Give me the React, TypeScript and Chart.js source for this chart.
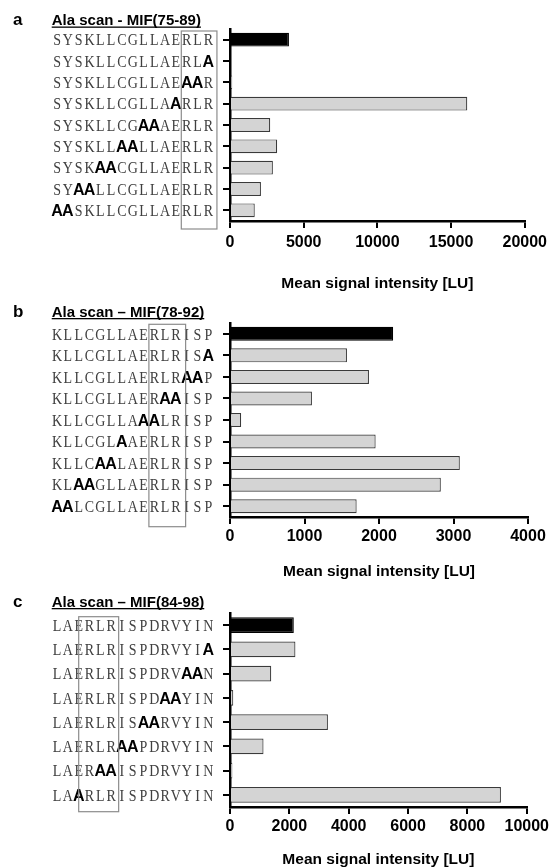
import React, { useEffect, useRef } from 'react';
import { Chart, registerables } from 'chart.js';

Chart.register(...registerables);

// lowercase "a" marks an alanine substitution (drawn as a bold "A")
const labelsA = [
  'SYSKLLCGLLAERLR',
  'SYSKLLCGLLAERLa',
  'SYSKLLCGLLAEaaR',
  'SYSKLLCGLLAaRLR',
  'SYSKLLCGaaAERLR',
  'SYSKLLaaLLAERLR',
  'SYSKaaCGLLAERLR',
  'SYaaLLCGLLAERLR',
  'aaSKLLCGLLAERLR',
];
const valuesA = [4000, 0, 150, 16100, 2730, 3200, 2910, 2100, 1680];

const labelsB = [
  'KLLCGLLAERLRISP',
  'KLLCGLLAERLRISa',
  'KLLCGLLAERLRaaP',
  'KLLCGLLAERaaISP',
  'KLLCGLLAaaLRISP',
  'KLLCGLaAERLRISP',
  'KLLCaaLAERLRISP',
  'KLaaGLLAERLRISP',
  'aaLCGLLAERLRISP',
];
const valuesB = [2190, 1570, 1865, 1100, 150, 1955, 3085, 2830, 1700];

const labelsC = [
  'LAERLRISPDRVYIN',
  'LAERLRISPDRVYIa',
  'LAERLRISPDRVaaN',
  'LAERLRISPDaaYIN',
  'LAERLRISaaRVYIN',
  'LAERLRaaPDRVYIN',
  'LAERaaISPDRVYIN',
  'LAaRLRISPDRVYIN',
];
const valuesC = [2150, 2205, 1390, 110, 3300, 1130, 80, 9130];

const panelLetters = ['a', 'b', 'c'];
const panelTitles = ['Ala scan - MIF(75-89)', 'Ala scan \u2013 MIF(78-92)', 'Ala scan \u2013 MIF(84-98)'];
const axisMax = [20000, 4000, 10000];
const axisStep = [5000, 1000, 2000];
const axisTitle = 'Mean signal intensity [LU]';

type Panel = {
  letter: string;
  title: string;
  labels: string[];
  values: number[];
  max: number;
  step: number;
  top: number;
  height: number;
  titleBase: number;
  tickPad: number;
  titlePadTop: number;
  padBottom: number;
  box: [number, number];
  boxTop: number;
  boxBottom: number;
};

const panels: Panel[] = [
  {
    letter: panelLetters[0], title: panelTitles[0], labels: labelsA, values: valuesA,
    max: axisMax[0], step: axisStep[0], top: 0, height: 294, titleBase: 25,
    tickPad: 5, titlePadTop: 17.5, padBottom: 0.7, box: [12, 15.3], boxTop: 31, boxBottom: 229,
  },
  {
    letter: panelLetters[1], title: panelTitles[1], labels: labelsB, values: valuesB,
    max: axisMax[1], step: axisStep[1], top: 294, height: 290, titleBase: 22.5,
    tickPad: 3, titlePadTop: 13.5, padBottom: 2.7, box: [9, 12.4], boxTop: 30.3, boxBottom: 232.7,
  },
  {
    letter: panelLetters[2], title: panelTitles[2], labels: labelsC, values: valuesC,
    max: axisMax[2], step: axisStep[2], top: 584, height: 286, titleBase: 22.5,
    tickPad: 3, titlePadTop: 11.5, padBottom: 0.7, box: [2.5, 6.2], boxTop: 32.7, boxBottom: 227.7,
  },
];

const SANS = '"Liberation Sans", Arial, Helvetica, sans-serif';
const SERIF = '"Liberation Serif", "Times New Roman", serif';
const CELL = 10.8;

function makePlugin(p: Panel) {
  return {
    id: 'seqLabels',
    afterDraw(chart: any) {
      const ctx = chart.ctx as CanvasRenderingContext2D;
      const yScale = chart.scales.y;
      const area = chart.chartArea;
      ctx.save();
      const cell = CELL;
      const right = area.left - 16.3;
      const n = p.labels[0].length;
      const x0 = right - n * cell;
      ctx.textAlign = 'center';
      ctx.textBaseline = 'alphabetic';
      p.labels.forEach((lab, i) => {
        const cy = yScale.getPixelForValue(i);
        const start = right - lab.length * cell;
        for (let k = 0; k < lab.length; k++) {
          const ch = lab[k];
          const cx = start + k * cell + cell / 2;
          if (ch === 'a') {
            ctx.font = 'bold 16px ' + SANS;
            ctx.fillStyle = '#000';
            ctx.fillText('A', cx, cy + 5.7);
          } else {
            ctx.save();
            ctx.font = '17.5px ' + SERIF;
            ctx.fillStyle = '#404040';
            ctx.translate(cx, cy + 5.8);
            ctx.scale(0.8, 1);
            ctx.fillText(ch, 0, 0);
            ctx.restore();
          }
        }
      });
      // boxed motif
      ctx.strokeStyle = '#8c8c8c';
      ctx.lineWidth = 1.2;
      ctx.strokeRect(x0 + p.box[0] * cell, p.boxTop, (p.box[1] - p.box[0]) * cell, p.boxBottom - p.boxTop);
      // panel letter and title
      ctx.textAlign = 'left';
      ctx.fillStyle = '#000';
      ctx.font = 'bold 17px ' + SANS;
      ctx.fillText(p.letter, 13, p.titleBase);
      ctx.font = 'bold 15px ' + SANS;
      const tx = x0;
      ctx.fillText(p.title, tx, p.titleBase);
      const tw = ctx.measureText(p.title).width;
      ctx.fillRect(tx, p.titleBase + 1.5, tw, 1.3);
      ctx.restore();
    },
  };
}

function PanelChart({ p }: { p: Panel }) {
  const ref = useRef<HTMLCanvasElement | null>(null);
  useEffect(() => {
    if (!ref.current) return;
    const colors = p.values.map((_, i) => (i === 0 ? '#000000' : '#d4d4d4'));
    const borders = p.values.map((_, i) => (i === 0 ? '#000000' : '#3a3a3a'));
    const chart = new Chart(ref.current, {
      type: 'bar',
      data: {
        labels: p.labels,
        datasets: [
          {
            data: p.values,
            backgroundColor: colors,
            borderColor: borders,
            borderWidth: 1.2,
            barPercentage: 0.65,
            categoryPercentage: 1,
          },
        ],
      },
      options: {
        indexAxis: 'y',
        animation: false,
        responsive: false,
        devicePixelRatio: 1,
        layout: { padding: { left: 223, right: 24, top: 29, bottom: p.padBottom } },
        plugins: { legend: { display: false }, tooltip: { enabled: false }, title: { display: false } },
        scales: {
          x: {
            type: 'linear',
            min: 0,
            max: p.max,
            ticks: {
              stepSize: p.step,
              color: '#000',
              padding: p.tickPad,
              font: { family: SANS, size: 16, weight: 'bold' },
              maxRotation: 0,
              callback: (v: any) => String(v),
            },
            grid: { drawOnChartArea: false, drawTicks: true, tickLength: 7, color: '#000', lineWidth: 2 },
            border: { display: true, color: '#000', width: 2.5 },
            title: {
              display: true,
              text: axisTitle,
              color: '#000',
              font: { family: SANS, size: 15.5, weight: 'bold' },
              padding: { top: p.titlePadTop, bottom: 0 },
            },
          },
          y: {
            type: 'category',
            ticks: { display: false },
            grid: { drawOnChartArea: false, drawTicks: true, tickLength: 7, color: '#000', lineWidth: 2, offset: false },
            border: { display: true, color: '#000', width: 2.5 },
          },
        },
      },
      plugins: [makePlugin(p)],
    } as any);
    return () => chart.destroy();
  }, [p]);
  return (
    <canvas
      ref={ref}
      width={552}
      height={p.height}
      style={{ position: 'absolute', left: 0, top: p.top, width: 552, height: p.height, display: 'block' }}
    />
  );
}

export default function App() {
  return (
    <div style={{ position: 'absolute', left: 0, top: 0, width: 552, height: 867, background: '#fff', overflow: 'hidden' }}>
      {panels.map((p) => (
        <PanelChart key={p.letter} p={p} />
      ))}
    </div>
  );
}
